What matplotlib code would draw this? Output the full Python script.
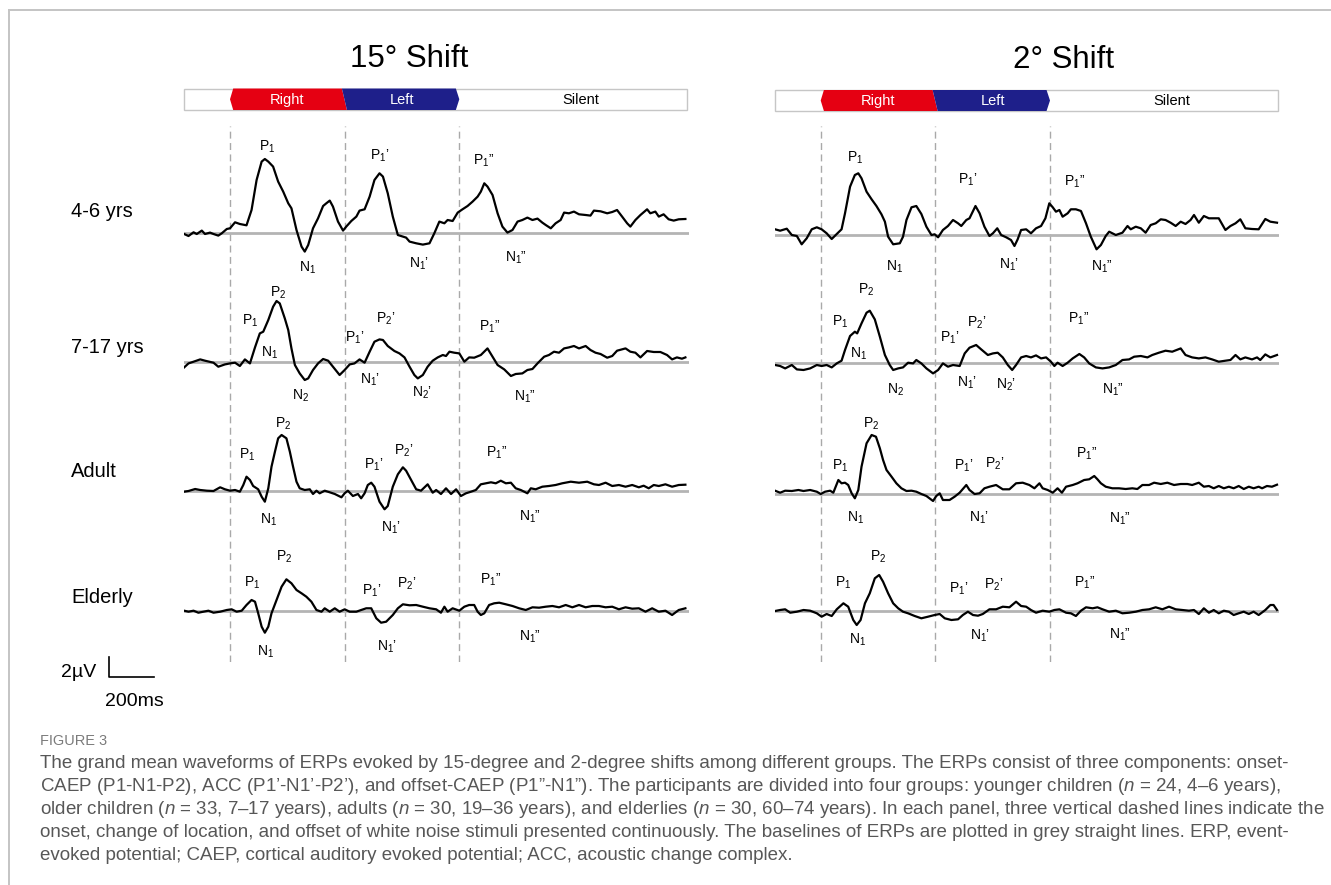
import numpy as np
import matplotlib
matplotlib.use("Agg")
import matplotlib.pyplot as plt
from matplotlib.patches import Polygon, Rectangle
from matplotlib.lines import Line2D
from matplotlib import font_manager

# ---------------------------------------------------------------- data
groups = ["4-6 yrs", "7-17 yrs", "Adult", "Elderly"]
conditions = ["15° Shift", "2° Shift"]
stim_labels = ["Right", "Left", "Silent"]
stim_label_t = [250, 750, 1530]
stim_times = [0, 500, 1000]          # onset, change of location, offset (ms)
time_range = [-200, 2000]            # ms
scale_ms, scale_uv = 200, 2

# ----- 15 degree shift
t15_46 = [-200,-181,-159,-145,-123,-109,-87,-72,-51,-36,-14,0,22,43,72,94,116,138,152,167,
          188,210,232,254,268,290,312,326,341,362,384,406,420,435,449,471,493,507,529,551,
          565,587,609,630,652,667,688,710,732,754,768,783,812,841,870,891,913,935,949,971,
          993,1014,1036,1058,1080,1094,1109,1123,1145,1167,1188,1210,1232,1254,1275,1297,1319,1341,1362,1377,
          1399,1420,1442,1457,1478,1500,1522,1551,1572,1587,1616,1645,1667,1688,1710,1732,1746,1768,1790,1819,
          1833,1855,1870,1891,1913,1935,1957,1986]
v15_46 = [-0.07,-0.27,0.1,-0.07,0.27,-0.07,0.07,-0.07,-0.23,0, 0.43,0.5,1.1,0.93,0.8,2.33,5.33,7.17,7.43,7.17,
          6.67,5.17,4.17,3.0,2.5,0.33,-1.33,-1.83,-1.17,0.5, 1.5,2.73,3.0,3.27,2.67,1.17,0.27,0.67,1.23,1.67,
          2.27,2.4,3.67,5.33,6.0,5.67,4.0,1.67,-0.17,-0.33, -0.43,-0.83,-1.0,-1.13,-1.0,0,1.17,1.0,1.33,1.23,
          2.07,2.4,2.73,3.17,3.67,4.17,5.0,4.67,3.83,2.0, 0.67,0.07,0.33,1.17,1.33,1.57,1.33,1.47,1.07,0.83,
          0.5,1.0,1.33,2.07,2.0,2.17,1.9,1.83,1.77,2.27, 2.2,2.0,2.13,2.33,1.67,1.0,0.67,1.33,1.83,2.4,
          2.0,2.17,1.67,1.9,1.4,1.27,1.4,1.43]

t15_717 = [-200,-181,-159,-130,-109,-72,-51,-22,0,22, 43,65,87,109,130,145,167,188,203,217,
           239,254,268,283,304,326,341,362,384,406, 428,449,478,500,522,543,565,587,609,630,
           652,667,688,717,739,761,783,804,819,841, 862,884,906,928,942,957,978,1000,1022,1043,
           1065,1094,1123,1145,1167,1196,1225,1246,1275,1297, 1319,1341,1370,1391,1413,1435,1457,1478,1500,1522,
           1551,1572,1594,1616,1645,1667,1688,1725,1746,1768, 1790,1819,1848,1877,1906,1928,1949,1971,1986]
v15_717 = [-0.57,-0.17,0,0.23,0.1,-0.1,-0.5,-0.27,-0.17,-0.1, -0.43,0.23,-0.17,1.43,2.83,3.0,4.17,5.5,6.07,5.83,
           4.33,3.17,1.33,-0.33,-1.17,-1.83,-1.67,-0.83,-0.17,0.27, 0.1,-0.5,-1.33,-0.83,-0.27,-0.17,0.23,-0.1,1.0,2.0,
           2.23,2.17,1.57,1.07,0.83,0.43,-0.5,-1.33,-1.67,-1.33, -0.5,0.1,0.43,0.67,0.57,1.0,0.9,0.83,0,0.43,
           0.4,0.67,1.33,0.5,-0.33,-0.77,-1.43,-1.23,-1.17,-0.83, -0.73,-0.17,0.5,0.67,1.0,0.9,1.33,1.43,1.57,1.33,
           1.57,1.17,0.9,0.77,0.4,0.57,1.1,1.33,1.0,0.9, 0.43,1.07,0.97,0.97,0.67,0.23,0.43,0.3,0.43]

t15_ad = [-200,-181,-152,-130,-101,-72,-43,-22,0,22, 43,58,72,87,101,123,138,152,167,181,
          196,210,225,246,261,275,290,304,326,348, 362,377,391,413,435,457,486,500,514,536,
          558,572,587,601,616,630,652,674,688,710, 732,754,768,790,812,833,862,884,899,920,
          942,964,986,1007,1029,1051,1072,1094,1116,1138, 1159,1181,1203,1225,1246,1268,1297,1312,1333,1362,
          1391,1420,1449,1486,1522,1558,1587,1609,1638,1667, 1696,1725,1754,1783,1804,1826,1848,1870,1899,1928,
          1957,1986]
v15_ad = [-0.07,0,0.2,0.1,0.03,0,0.37,0.17,0.03,0.1, -0.07,0.6,1.43,1.1,0.5,0.17,-0.57,-1.07,0.27,2.43,
          3.93,5.27,5.6,5.27,3.93,2.43,0.93,0.27,0.1,0.17, -0.3,0.03,-0.23,0.03,-0.13,-0.3,-0.63,-0.23,0.03,-0.5,
          -0.3,-0.73,-0.23,0.6,0.83,0.43,-1.07,-1.83,-1.5,0.43, 1.67,2.37,2.03,1.1,0.17,0.03,0.67,-0.17,0.1,-0.3,
          0.27,-0.3,0.17,-0.5,-0.23,-0.07,0.1,0.67,0.77,0.87, 0.77,1.03,0.77,0.83,0.27,0.1,-0.23,0.27,0.17,0.43,
          0.5,0.6,0.77,0.93,0.83,0.93,0.67,0.6,0.83,0.5, 0.6,0.43,0.6,0.37,0.53,0.27,0.6,0.5,0.67,0.43,
          0.6,0.63]

t15_el = [-200,-181,-159,-138,-116,-94,-72,-43,-14,7, 29,51,72,94,109,123,138,152,167,181,
          203,225,246,268,290,312,333,355,377,399, 413,435,457,478,500,522,551,572,594,616,
          638,659,681,710,732,754,783,812,841,870, 899,920,935,949,971,1000,1022,1043,1065,1080,
          1094,1109,1130,1152,1174,1203,1232,1261,1290,1319, 1348,1377,1406,1435,1464,1493,1522,1551,1580,1609,
          1638,1667,1696,1725,1754,1783,1812,1841,1870,1899, 1928,1957,1986]
v15_el = [0.03,-0.07,0.03,-0.17,-0.07,0.03,-0.17,-0.07,0.1,0.17, -0.07,0.03,0.6,1.1,0.93,-0.23,-1.57,-2.17,-1.57,-0.23,
          1.1,2.43,3.17,2.77,2.1,1.77,1.43,0.93,0.1,-0.07, 0.27,-0.07,0.27,-0.07,0.17,-0.07,-0.07,0.1,0.27,0.27,
          -0.73,-1.17,-1.07,-0.4,0.27,0.67,0.57,0.6,0.43,0.27, 0.17,-0.17,0.43,-0.07,0.27,0.03,0.43,0.6,0.6,-0.07,
          -0.4,-0.23,0.6,0.77,0.83,0.67,0.5,0.27,0.1,0.37, 0.33,0.43,0.5,0.37,0.6,0.37,0.6,0.37,0.5,0.5,
          0.37,0.43,0.17,0.37,0.23,0.27,-0.07,0.27,-0.07,0.03, -0.4,0.1,0.27]

# ----- 2 degree shift
t2_46 = [-199,-177,-148,-126,-104,-83,-61,-39,-17,4, 26,48,70,91,106,128,149,164,178,200,
         222,243,265,280,294,316,345,359,374,396, 417,439,461,483,497,512,533,555,577,599,
         613,635,649,675,693,714,736,751,770,787, 809,830,845,859,874,896,917,939,961,980,
         997,1012,1026,1041,1055,1077,1091,1113,1135,1157, 1178,1203,1222,1243,1258,1287,1316,1338,1352,1374,
         1396,1417,1439,1461,1483,1504,1526,1548,1570,1591, 1613,1628,1649,1671,1693,1714,1736,1765,1787,1809,
         1830,1852,1881,1910,1939,1961,1990]
v2_46 = [0.57,0.43,0.63,0,-0.1,-0.93,-0.33,0.57,0.77,0.57, 0.17,-0.4,0.1,0.57,2.17,4.83,6.0,6.17,5.67,4.33,
         3.57,2.9,2.07,1.33,-0.17,-0.93,-0.83,-0.17,1.5,2.77, 2.9,2.1,0.83,0,0.07,-0.23,0.5,0.9,1.5,1.17,
         0.9,1.5,1.67,2.9,2.17,0.83,-0.1,0.17,0.67,0, -0.23,-0.5,-1.1,-0.43,0.5,0.57,0.17,0.67,0.9,1.67,
         3.17,2.77,2.33,2.5,1.83,2.17,2.57,2.57,2.4,1.17, -0.17,-1.43,-1.0,-0.1,0.33,0,0.23,0.9,0.57,0.83,
         0.67,0.23,1.0,1.17,1.57,1.5,1.23,0.9,1.33,1.1, 1.5,2.0,1.23,1.9,1.67,1.67,1.67,0.5,0.9,1.17,
         1.57,0.67,0.6,0.57,1.6,1.33,1.23]

t2_717 = [-199,-177,-155,-126,-104,-75,-46,-17,4,26, 48,70,91,106,128,149,159,178,200,214,
          236,258,280,301,316,338,359,381,403,417, 439,461,490,512,533,555,577,606,628,649,
          678,700,729,751,772,794,816,835,852,874, 896,917,939,961,983,1004,1019,1033,1055,1077,
          1099,1128,1149,1171,1200,1229,1258,1287,1316,1345, 1367,1396,1425,1446,1475,1504,1533,1570,1591,1620,
          1649,1678,1707,1736,1765,1787,1809,1830,1852,1881, 1903,1917,1939,1961,1990]
v2_717 = [-0.23,-0.33,-0.57,-0.23,-0.67,-0.73,-0.57,-0.23,-0.33,-0.23, -0.47,-0.07,0.2,1.27,2.67,3.1,2.93,3.93,5.0,5.2,
          4.33,2.6,0.77,-0.23,-0.73,-0.57,-0.47,0,-0.07,0.27, -0.07,-0.57,-1.07,-0.73,-0.07,-0.4,-0.23,-0.33,0.93,1.5,
          1.77,1.33,0.77,0.93,1.0,0.53,-0.23,-0.73,-0.23,0.53, 0.67,0.53,0.73,0.43,0.53,0.1,-0.33,0,-0.33,0,
          0.43,0.87,0.53,-0.07,-0.47,-0.57,-0.47,-0.23,0.27,0.33, 0.6,0.67,0.53,0.77,1.0,1.2,1.1,1.43,0.77,0.53,
          0.43,0.53,0.33,0.1,0.2,0.27,0.77,0.33,0.53,0.33, 0.53,0.27,0.83,0.53,0.77]

t2_ad = [-199,-177,-155,-126,-97,-75,-46,-17,0,19, 41,55,77,91,106,120,135,149,164,178,
         200,222,241,258,272,287,309,330,352,374, 396,417,439,461,490,504,519,533,562,584,
         606,635,649,671,693,714,736,765,794,823, 852,881,910,932,954,968,990,1012,1033,1052,
         1070,1099,1120,1149,1171,1193,1207,1222,1243,1272, 1301,1330,1359,1381,1403,1432,1454,1483,1512,1541,
         1570,1599,1620,1649,1671,1693,1714,1736,1758,1780, 1801,1823,1845,1867,1888,1910,1925,1946,1968,1990]
v2_ad = [0.33,0.13,0.33,0.3,0.4,0.3,0.4,0.23,0,0.23, 0.33,0.13,1.4,1.07,1.13,0.9,0.07,-0.43,0.4,2.73,
         5.07,5.9,5.73,4.57,3.4,2.4,1.73,1.07,0.57,0.3, 0.33,0.23,0,-0.2,-0.7,-0.2,0.07,-0.6,-0.6,-0.27,
         0.13,0.9,0.4,0,0.07,0.57,0.73,0.9,0.47,0.47, 1.07,1.13,0.9,0.57,1.07,0.57,0.4,0.13,0.57,0.13,
         0.73,0.9,1.07,1.4,1.47,1.8,1.47,1.07,0.73,0.57, 0.57,0.5,0.57,0.5,0.9,0.9,1.13,1.0,1.13,0.9,
         1.0,1.0,0.9,1.13,0.73,0.8,0.57,0.8,0.57,0.73, 0.57,0.8,0.5,0.73,0.57,0.73,0.57,0.8,0.73,0.93]

t2_el = [-199,-177,-155,-133,-104,-75,-46,-17,4,26, 48,70,99,120,142,157,174,193,214,236,
         255,272,294,316,338,359,381,410,439,468, 497,519,541,570,599,620,642,664,686,707,
         736,765,794,823,852,874,896,917,939,968, 997,1019,1041,1070,1091,1113,1135,1157,1186,1207,
         1229,1258,1287,1316,1345,1374,1403,1432,1461,1490, 1519,1548,1577,1606,1628,1649,1671,1693,1714,1736,
         1758,1780,1801,1823,1845,1867,1888,1910,1939,1961, 1975,1990]
v2_el = [0,0.1,0.17,-0.17,-0.07,0.1,0.03,-0.23,-0.57,-0.3, -0.5,0.17,0.77,0.43,-0.9,-1.4,-0.9,0.77,1.77,3.27,
         3.6,2.93,1.77,0.77,0.27,-0.07,-0.23,-0.5,-0.73,-0.57, -0.4,-0.3,-0.73,-0.9,-0.83,-0.4,-0.07,-0.4,-0.47,-0.3,
         0.17,0.17,0.43,0.37,0.93,0.5,0.43,0.1,-0.17,0.03, -0.07,0.1,0.17,-0.17,-0.23,-0.5,0.03,0.37,0.27,0.37,
         0.17,-0.07,0.03,-0.23,-0.17,-0.07,0.1,0.17,0.37,0.17, 0.43,0.17,0.1,0.03,0.1,-0.3,0.27,-0.17,0.1,-0.23,
         0.03,-0.07,-0.4,-0.23,-0.07,-0.3,-0.07,-0.4,0.1,0.6, 0.6,0.1]

# component labels (name, latency ms, amplitude uV)
labels15 = [
    [("P1",164,8.66),("P1'",654,7.8),('P1"',1108,7.3),("N1",340,-3.5),("N1'",824,-3.0),('N1"',1247,-2.5)],
    [("P2",212,6.9),("P1",87,4.1),("N1",171,0.84),("N2",308,-3.43),("P1'",545,2.34),("P2'",680,4.24),
     ("N1'",611,-1.83),("N2'",836,-3.16),('P1"',1131,3.44),('N1"',1287,-3.56)],
    [("P1",73,3.6),("P2",230,6.7),("N1",167,-2.9),("P1'",625,2.6),("P2'",759,4.03),("N1'",701,-3.63),
     ('P1"',1163,3.83),('N1"',1308,-2.57)],
    [("P1",95,2.77),("P2",237,5.37),("N1",156,-4.07),("P1'",618,2.03),("P2'",770,2.7),("N1'",683,-3.57),
     ('P1"',1137,3.1),('N1"',1308,-2.57)],
]
labels2 = [
    [("P1",150,7.67),("N1",320,-3.17),("P1'",640,5.5),("N1'",823,-3.0),('P1"',1109,5.33),('N1"',1225,-3.17)],
    [("P2",200,7.27),("P1",84,4.1),("N1",164,0.87),("N2",328,-2.73),("P1'",564,2.54),("P2'",680,4.0),
     ("N1'",640,-2.0),("N2'",807,-2.23),('P1"',1124,4.4),('N1"',1276,-2.73)],
    [("P1",84,2.8),("P2",222,7.0),("N1",150,-2.33),("P1'",622,2.8),("P2'",760,3.07),("N1'",692,-2.33),
     ('P1"',1160,4.07),('N1"',1305,-2.43)],
    [("P1",99,2.77),("P2",251,5.43),("N1",160,-2.9),("P1'",600,2.17),("P2'",756,2.6),("N1'",695,-2.5),
     ('P1"',1153,2.77),('N1"',1305,-2.4)],
]

traces = [
    [(t15_46, v15_46), (t15_717, v15_717), (t15_ad, v15_ad), (t15_el, v15_el)],
    [(t2_46, v2_46), (t2_717, v2_717), (t2_ad, v2_ad), (t2_el, v2_el)],
]
all_labels = [labels15, labels2]

caption_title = "FIGURE 3"
caption_lines = [
    "The grand mean waveforms of ERPs evoked by 15-degree and 2-degree shifts among different groups. The ERPs consist of three components: onset-",
    "CAEP (P1-N1-P2), ACC (P1’-N1’-P2’), and offset-CAEP (P1”-N1”). The participants are divided into four groups: younger children ($\\mathit{n}$ = 24, 4–6 years),",
    "older children ($\\mathit{n}$ = 33, 7–17 years), adults ($\\mathit{n}$ = 30, 19–36 years), and elderlies ($\\mathit{n}$ = 30, 60–74 years). In each panel, three vertical dashed lines indicate the",
    "onset, change of location, and offset of white noise stimuli presented continuously. The baselines of ERPs are plotted in grey straight lines. ERP, event-",
    "evoked potential; CAEP, cortical auditory evoked potential; ACC, acoustic change complex.",
]

# ---------------------------------------------------------------- style / layout
W, H, DPI = 1331, 885, 100


def has_font(name):
    try:
        font_manager.findfont(font_manager.FontProperties(family=name), fallback_to_default=False)
        return True
    except Exception:
        return False


MAIN_FONT = "Liberation Sans"
CAP_FONT = "Liberation Sans Narrow" if has_font("Liberation Sans Narrow") else "Liberation Sans"
plt.rcParams["font.family"] = [MAIN_FONT, "DejaVu Sans"]
plt.rcParams["mathtext.fontset"] = "custom"
plt.rcParams["mathtext.rm"] = CAP_FONT
plt.rcParams["mathtext.it"] = CAP_FONT + ":italic"

fig = plt.figure(figsize=(W / DPI, H / DPI), dpi=DPI)
fig.patch.set_facecolor("white")

PX_PER_MS = 0.2293
onset_px = [230.0, 820.7]
bar_y = [(88.5, 110.0), (90.0, 111.0)]
base_y = [[233.3, 361.7, 491.0, 611.0], [235.0, 362.7, 494.0, 611.0]]
title_pos = [(409.6, 66.7), (1064.0, 68.3)]
label_x = 71
label_base = [217.3, 352.7, 476.7, 603.3]
RED, BLUE = "#e50012", "#1e1f8a"
GREY_BASE = "#b4b4b4"
GREY_DASH = "#a9a9a9"


def px_axes(x0, y0, x1, y1, zorder=1):
    ax = fig.add_axes([x0 / W, 1 - y1 / H, (x1 - x0) / W, (y1 - y0) / H], zorder=zorder)
    ax.set_axis_off()
    ax.patch.set_alpha(0)
    return ax


def comp_label(name):
    letter, digit, prime = name[0], name[1], name[2:]
    p = {"": "", "'": "’", '"': "”"}[prime]
    return letter + r"$_\mathregular{" + digit + "}$" + p


# page frame lines
frame = fig.add_axes([0, 0, 1, 1], zorder=0)
frame.set_axis_off()
frame.set_xlim(0, W)
frame.set_ylim(H, 0)
frame.add_line(Line2D([9, W], [9.5, 9.5], color="#c4c4c4", lw=1.4))
frame.add_line(Line2D([9, 9], [9.5, H], color="#c4c4c4", lw=1.4))

for c in range(2):
    x0 = onset_px[c] + time_range[0] * PX_PER_MS
    x1 = onset_px[c] + time_range[1] * PX_PER_MS

    # title
    fig.text(title_pos[c][0] / W, 1 - title_pos[c][1] / H, conditions[c], fontsize=22.5,
             ha="center", va="baseline")

    # stimulus bar
    bx = px_axes(x0, bar_y[c][0], x1, bar_y[c][1], zorder=2)
    bx.set_xlim(time_range)
    bx.set_ylim(0, 1)
    bx.add_patch(Rectangle((time_range[0], 0), 1993 - time_range[0], 1, facecolor="white",
                           edgecolor="#c6c6c6", lw=1.0, clip_on=False))
    s0, s1, s2 = stim_times
    bx.add_patch(Polygon([(s0 + 14, 1), (s1 - 12, 1), (s1 + 10, 0), (s0 + 14, 0), (s0, 0.5)],
                         closed=True, facecolor=RED, edgecolor="none", clip_on=False))
    bx.add_patch(Polygon([(s1 - 12, 1), (s2 - 15, 1), (s2, 0.5), (s2 - 15, 0), (s1 + 10, 0)],
                         closed=True, facecolor=BLUE, edgecolor="none", clip_on=False))
    for lab, tx, col in zip(stim_labels, stim_label_t, ["white", "white", "black"]):
        bx.text(tx, 0.47, lab, color=col, fontsize=10.5, ha="center", va="center")

    # dashed event lines
    dx = px_axes(x0, 126, x1, 662, zorder=1)
    dx.set_xlim(time_range)
    dx.set_ylim(0, 1)
    for st in stim_times:
        dx.axvline(st, color=GREY_DASH, lw=1.0, dashes=(5, 3.2))

    # traces
    for g in range(4):
        b = base_y[c][g]
        ax = px_axes(x0, b - 100, x1, b + 50, zorder=3)
        ax.set_xlim(time_range)
        ax.set_ylim(-5, 10)
        ax.axhline(0, color=GREY_BASE, lw=2.0, zorder=1)
        tt, vv = traces[c][g]
        ax.plot(tt, vv, color="black", lw=1.6, zorder=2, solid_joinstyle="round")
        for name, lt, lv in all_labels[c][g]:
            ax.text(lt, lv, comp_label(name), fontsize=10, ha="center", va="center", zorder=4)
        if c == 0 and g == 3:
            # scale bar
            sx = (108.5 - onset_px[0]) / PX_PER_MS
            sy = (b - 657) / 10.0
            ax.add_line(Line2D([sx, sx, sx + scale_ms], [sy, sy - scale_uv, sy - scale_uv],
                               color="black", lw=1.2, clip_on=False))

# row labels
for g, name in enumerate(groups):
    fig.text(label_x / W, 1 - label_base[g] / H, name, fontsize=14.5, ha="left", va="baseline")

# scale bar text
fig.text(96 / W, 1 - 677 / H, "2µV", fontsize=14, ha="right", va="baseline")
fig.text(105 / W, 1 - 706 / H, "200ms", fontsize=14, ha="left", va="baseline")

# caption
renderer = fig.canvas.get_renderer()
ft = fig.text(40 / W, 1 - 745 / H, caption_title, fontsize=8, family=CAP_FONT, color="#7b7b7b",
              ha="left", va="baseline")
w = ft.get_window_extent(renderer=renderer).width
ft.set_fontsize(8 * 67 / w)

cap_texts = []
for i, line in enumerate(caption_lines):
    t = fig.text(40 / W, 1 - (768 + 23 * i) / H, line, fontsize=10, family=CAP_FONT,
                 color="#575757", ha="left", va="baseline")
    cap_texts.append(t)
w1 = cap_texts[0].get_window_extent(renderer=renderer).width
fs = 10 * 1255 / w1
for t in cap_texts:
    t.set_fontsize(fs)

fig.savefig("out.png", dpi=DPI, facecolor="white")
